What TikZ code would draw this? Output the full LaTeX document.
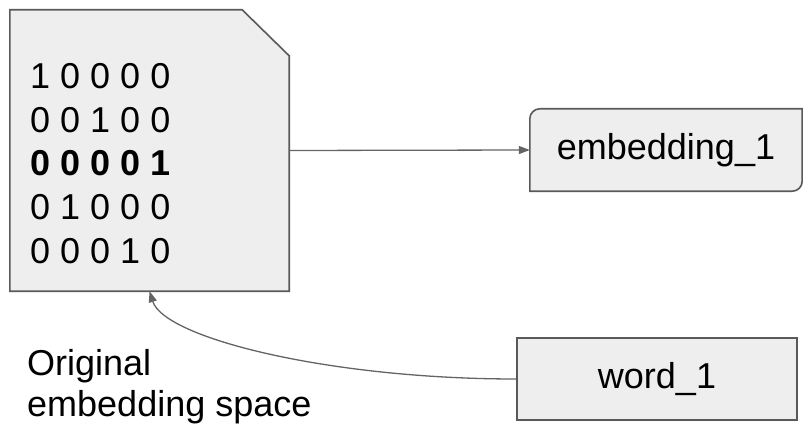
\documentclass[tikz,border=0pt]{standalone}
\usepackage{fontspec}
\setmainfont{Liberation Sans}
\usepackage{tikz}
\usetikzlibrary{arrows.meta}
\usetikzlibrary{positioning}
\definecolor{boxgray}{RGB}{238, 238, 238}
\definecolor{edgegray}{RGB}{89, 89, 89}
\definecolor{linegray}{RGB}{100, 100, 100}
\tikzset{bigtext/.style = {font=\fontsize{36}{41}\selectfont, text=black}}
\tikzset{wordbox/.style = {bigtext, draw=edgegray, fill=boxgray, line width=1.6,
                           minimum width=280, minimum height=82, inner sep=0}}
\tikzset{conn/.style = {draw=linegray, line width=1.3,
                        -{Triangle[length=11, width=8]}}}

\begin{document}
\begin{tikzpicture}[x=1pt, y=-1pt]
      \useasboundingbox (0, 0) rectangle (803, 425);

      % document with the cut corner
      \node [minimum width=279, minimum height=281, inner sep=0] (doc) at (149.5, 150.5) {};
      \draw [draw=edgegray, fill=boxgray, line width=1.6, line join=miter]
        (doc.south west) -- (doc.north west) -- ([xshift=-47]doc.north east)
        -- ([yshift=-46]doc.north east) -- (doc.south east) -- cycle;
      \foreach \r [count=\i] in {1 0 0 0 0, 0 0 1 0 0, \textbf{0 0 0 0 1}, 0 1 0 0 0, 0 0 0 1 0}
        \node [bigtext, anchor=base west, inner sep=0] (row\i) at (30, {44.6 + 43.7*\i}) {\r};

      % embedding box, two round corners
      \node [bigtext, minimum width=272, minimum height=82, inner sep=0] (emb) at (666, 150) {};
      \path [draw=edgegray, fill=boxgray, line width=1.6]
        (emb.south west) [rounded corners=10] -- (emb.north west) [sharp corners] -- (emb.north east)
        [rounded corners=10] -- (emb.south east) [sharp corners] -- cycle;
      \node [bigtext] at (emb.center) {embedding\_1};

      \node [wordbox] (word) at (657, 379) {word\_1};

      \node [bigtext, align=left, anchor=north west, inner sep=0] (space) at (27, 349)
        {Original\\embedding space};

      \draw [conn] (doc.east) -- (emb.west);
      \draw [conn] (word.west) .. controls +(-187, 0) and +(15, 47) .. (doc.south);
    \end{tikzpicture}
\end{document}
